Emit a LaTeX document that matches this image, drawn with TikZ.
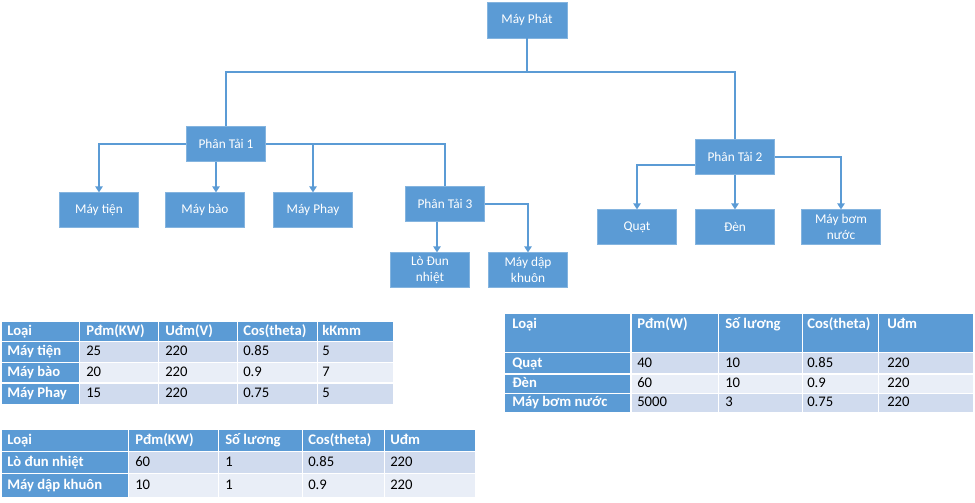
\documentclass[tikz,border=0pt]{standalone}
\usepackage{fontspec}
\setmainfont{Carlito}
\usetikzlibrary{arrows.meta}
\definecolor{boxblue}{HTML}{5B9BD5}
\definecolor{bandA}{HTML}{D0DBEE}
\definecolor{bandB}{HTML}{E9EEF7}

\begin{document}
\begin{tikzpicture}[x=0.75pt,y=-0.75pt,
  blk/.style={fill=boxblue,draw=boxblue!75!white,line width=0.4pt,text=white,
    minimum width=59.25pt,minimum height=26pt,inner sep=1pt,align=center,
    font=\fontsize{10}{12.5}\selectfont},
  link/.style={draw=boxblue,line width=1.1pt},
  arr/.style={link,-{Triangle[width=5.5pt,length=4.5pt]}},
  hd/.style={anchor=west,inner sep=0pt,text height=8pt,text depth=2.5pt,
    text=white,font=\fontsize{11}{13}\selectfont\bfseries},
  cell/.style={anchor=west,inner sep=0pt,text height=8pt,text depth=2.5pt,
    font=\fontsize{11}{13}\selectfont},
  grid/.style={white,line width=1.2pt}]
\useasboundingbox (0,0) rectangle (975,503);

% tree
\node[blk,minimum width=60pt,minimum height=27pt] (phat) at (527,20) {Máy Phát};
\node[blk] (pt1) at (226,144) {Phân Tải 1};
\node[blk] (pt2) at (735,157) {Phân Tải 2};
\node[blk] (pt3) at (445,204) {Phân Tải 3};
\node[blk] (tien) at (99,210) {Máy tiện};
\node[blk] (bao) at (205,210) {Máy bào};
\node[blk] (phay) at (313,210) {Máy Phay};
\node[blk] (lo) at (430,270) {Lò Đun\\nhiệt};
\node[blk] (dap) at (528,270) {Máy dập\\khuôn};
\node[blk] (quat) at (637,227) {Quạt};
\node[blk] (den) at (735,227) {Đèn};
\node[blk] (bom) at (841,227) {Máy bơm\\nước};

\coordinate (bus) at (527,72);
\draw[link] (phat.south) -- (bus);
\draw[link] (pt1.north) |- (bus) -| (pt2.north);

\coordinate (pt1b) at ([xshift=-7.5pt]pt1.south);
\coordinate (pt3b) at ([xshift=-6pt]pt3.south);
\coordinate (pt2w) at ([yshift=-6pt]pt2.west);
\draw[arr] (pt1.west) -| (tien.north);
\draw[arr] (pt1b) -- (pt1b |- bao.north);
\draw[link] (pt1.east) -| (pt3.north);
\draw[arr] (pt1.east -| phay.north) -- (phay.north);
\draw[arr] (pt3b) -- (pt3b |- lo.north);
\draw[arr] (pt3.east) -| (dap.north);
\draw[arr] (pt2w) -| (quat.north);
\draw[arr] (pt2.south) -- (den.north);
\draw[arr] (pt2.east) -| (bom.north);

% table 1
\fill[boxblue] (2,322) rectangle (393,341);
\fill[bandA] (2,341) rectangle (393,362.5);
\fill[bandB] (2,362.5) rectangle (393,383);
\fill[bandA] (2,383) rectangle (393,404);
\fill[boxblue] (2,341) rectangle (79.5,404);
\foreach \y in {341.5,362.5,383} \draw[grid] (2,\y) -- (393,\y);
\foreach \x in {79.5,158.5,237.5,317.5} \draw[grid] (\x,322) -- (\x,404);
\foreach \x/\t [count=\i] in {7/Loại,86/Pđm(KW),165/Uđm(V),243/Cos(theta),322/kKmm}
  \node[hd] (ta-0-\i) at (\x,331.5) {\t};
\foreach \y/\a/\b/\c/\d/\e [count=\r] in
  {352/Máy tiện/25/220/0.85/5,372.5/Máy bào/20/220/0.9/7,393.5/Máy Phay/15/220/0.75/5} {
  \node[hd] (ta-\r-1) at (7,\y) {\a};
  \node[cell] (ta-\r-2) at (86,\y) {\b};
  \node[cell] (ta-\r-3) at (165,\y) {\c};
  \node[cell] (ta-\r-4) at (243,\y) {\d};
  \node[cell] (ta-\r-5) at (322,\y) {\e};
}

% table 2
\fill[boxblue] (2,430) rectangle (475,451);
\fill[bandA] (2,451) rectangle (475,473.5);
\fill[bandB] (2,473.5) rectangle (475,497);
\fill[boxblue] (2,451) rectangle (128.5,497);
\foreach \y in {451.5,473.5} \draw[grid] (2,\y) -- (475,\y);
\foreach \x in {128.5,218.5,302.5,384.5} \draw[grid] (\x,430) -- (\x,497);
\foreach \x/\t [count=\i] in {7/Loại,135/Pđm(KW),225/Số lương,308/Cos(theta),390/Uđm}
  \node[hd] (tb-0-\i) at (\x,440.5) {\t};
\foreach \y/\a/\b/\c/\d/\e [count=\r] in
  {462.5/Lò đun nhiệt/60/1/0.85/220,485.5/Máy dập khuôn/10/1/0.9/220} {
  \node[hd] (tb-\r-1) at (7,\y) {\a};
  \node[cell] (tb-\r-2) at (135,\y) {\b};
  \node[cell] (tb-\r-3) at (225,\y) {\c};
  \node[cell] (tb-\r-4) at (308,\y) {\d};
  \node[cell] (tb-\r-5) at (390,\y) {\e};
}

% table 3
\fill[boxblue] (505,314) rectangle (973,352);
\fill[bandA] (505,352) rectangle (973,374);
\fill[bandB] (505,374) rectangle (973,393.5);
\fill[bandA] (505,393.5) rectangle (973,412);
\fill[boxblue] (505,352) rectangle (631,412);
\foreach \y in {352.5,374,393.5} \draw[grid] (505,\y) -- (973,\y);
\foreach \x in {631,718.5,802.5,878.5} \draw[grid] (\x,314) -- (\x,412);
\foreach \x/\t [count=\i] in {512/Loại,637/Pđm(W),725/Số lương,807/Cos(theta),887/Uđm}
  \node[hd] (tc-0-\i) at (\x,325) {\t};
\foreach \y/\a/\b/\c/\d/\e [count=\r] in
  {364/Quạt/40/10/0.85/220,384/Đèn/60/10/0.9/220,403/Máy bơm nước/5000/3/0.75/220} {
  \node[hd] (tc-\r-1) at (512,\y) {\a};
  \node[cell] (tc-\r-2) at (637,\y) {\b};
  \node[cell] (tc-\r-3) at (725,\y) {\c};
  \node[cell] (tc-\r-4) at (807,\y) {\d};
  \node[cell] (tc-\r-5) at (887,\y) {\e};
}
\end{tikzpicture}
\end{document}
